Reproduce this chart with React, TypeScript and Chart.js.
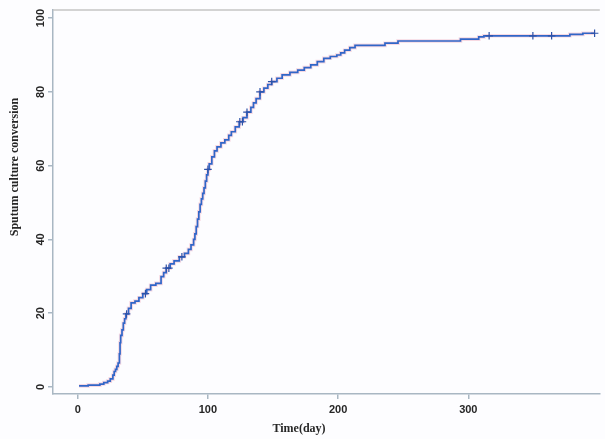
import React, { useEffect, useRef } from "react";
import { Chart, registerables } from "chart.js";

Chart.register(...registerables);

// Kaplan–Meier style cumulative conversion (%) by day
const eventDays = [
  1, 8, 17, 20, 23, 25, 27, 28, 29, 30, 31, 32, 32.5, 33, 34, 35, 36, 37, 39, 41,
  44, 47, 50, 53, 56, 60, 64, 66, 68, 71, 74, 78, 82, 85, 87, 89, 90, 91, 92, 93,
  94, 95, 96, 97, 98, 99, 100, 101, 103, 105, 107, 110, 113, 116, 118, 121, 124, 127, 130, 133,
  135, 137, 140, 143, 146, 149, 153, 157, 163, 169, 174, 179, 184, 189, 194, 199, 202, 205, 209, 213,
  236, 246, 294, 308, 312, 378, 388, 397,
];
const eventValues = [
  0.3, 0.5, 0.8, 1.2, 1.6, 2.2, 3.2, 4.2, 4.8, 5.6, 6.5, 9.0, 12.0, 14.0, 15.5, 17.3, 18.5, 19.8, 21.3, 22.8,
  23.3, 24.2, 25.3, 26.4, 27.6, 28.1, 29.9, 31.0, 32.2, 33.4, 34.2, 35.3, 36.2, 37.3, 38.5, 40.0, 41.5, 43.5, 45.5, 47.5,
  49.5, 51.0, 52.5, 54.0, 55.8, 57.5, 59.0, 60.5, 62.4, 64.0, 65.1, 66.2, 67.0, 68.2, 69.2, 70.5, 71.9, 73.0, 74.5, 75.8,
  77.0, 78.2, 80.0, 81.0, 82.0, 82.8, 83.7, 84.6, 85.3, 85.9, 86.6, 87.3, 88.2, 89.1, 89.6, 90.0, 90.6, 91.3, 92.0, 92.6,
  93.2, 93.8, 94.3, 94.9, 95.2, 95.6, 95.9, 95.9,
];
// censored observations (day)
const censorDays = [37.5, 52, 68, 70, 80, 100, 124.5, 126.5, 130, 140, 149, 316, 349.6, 364, 397];

const xTickValues = [0, 100, 200, 300];
const yTickValues = [0, 20, 40, 60, 80, 100];
const xTitle = "Time(day)";
const yTitle = "Sputum culture conversion";

function valueAt(day: number): number {
  let v = 0;
  for (let i = 0; i < eventDays.length; i++) {
    if (eventDays[i] <= day) v = eventValues[i];
  }
  return v;
}

const AXIS_COLOR = "#a9b7c3";
const TEXT_COLOR = "#262626";

export default function App() {
  const ref = useRef<HTMLCanvasElement | null>(null);

  useEffect(() => {
    document.body.style.margin = "0";
    const canvas = ref.current;
    if (!canvas) return;

    const curve = eventDays.map((d, i) => ({ x: d, y: eventValues[i] }));
    const censors = censorDays.map((d) => ({ x: d, y: valueAt(d) }));

    const decor = {
      id: "decor",
      beforeDraw(chart: any) {
        const { ctx, width, height } = chart;
        ctx.save();
        ctx.fillStyle = "#fdfdff";
        ctx.fillRect(0, 0, width, height);
        ctx.restore();
      },
      afterDraw(chart: any) {
        const { ctx, chartArea } = chart;
        const y = chart.scales.y;
        ctx.save();
        // top frame line
        ctx.strokeStyle = "#c4c4c4";
        ctx.lineWidth = 1.5;
        ctx.beginPath();
        ctx.moveTo(chartArea.left, chartArea.top);
        ctx.lineTo(chartArea.right, chartArea.top);
        ctx.stroke();
        // rotated y tick labels
        ctx.fillStyle = TEXT_COLOR;
        ctx.font = "bold 11px 'Liberation Sans', Arial, sans-serif";
        ctx.textAlign = "center";
        ctx.textBaseline = "middle";
        for (const v of yTickValues) {
          const py = y.getPixelForValue(v);
          ctx.save();
          ctx.translate(41, py);
          ctx.rotate(-Math.PI / 2);
          ctx.fillText(String(v), 0, 0);
          ctx.restore();
        }
        // axis titles
        ctx.font = "bold 12px 'Liberation Serif', 'Times New Roman', serif";
        ctx.save();
        ctx.translate(15, 167);
        ctx.rotate(-Math.PI / 2);
        ctx.fillText(yTitle, 0, 0);
        ctx.restore();
        ctx.fillText(xTitle, 299, 429);
        ctx.restore();
      },
    };

    const chart = new Chart(canvas, {
      type: "line",
      data: {
        datasets: [
          {
            data: curve,
            stepped: true,
            borderColor: "rgba(236,150,172,0.35)",
            borderWidth: 3.6,
            pointRadius: 0,
            fill: false,
            order: 3,
          },
          {
            data: curve,
            stepped: true,
            borderColor: "#3066c8",
            borderWidth: 1.7,
            pointRadius: 0,
            fill: false,
            order: 2,
          },
          {
            data: censors,
            showLine: false,
            pointStyle: "cross",
            pointRadius: 3.8,
            pointBorderColor: "#2d52a8",
            pointBorderWidth: 1.2,
            borderColor: "#2d52a8",
            order: 1,
          },
        ],
      },
      options: {
        responsive: false,
        animation: false,
        events: [],
        layout: { padding: { top: 10, right: 0, left: 0, bottom: 0 } },
        plugins: { legend: { display: false }, tooltip: { enabled: false } },
        scales: {
          x: {
            type: "linear",
            min: -19,
            max: 401,
            afterBuildTicks: (s: any) => {
              s.ticks = xTickValues.map((v) => ({ value: v }));
            },
            afterFit: (s: any) => {
              s.height = 45;
            },
            grid: {
              display: true,
              drawOnChartArea: false,
              drawTicks: true,
              tickLength: 5,
              color: AXIS_COLOR,
              lineWidth: 1.5,
            },
            border: { display: true, color: AXIS_COLOR, width: 1.5 },
            ticks: {
              padding: 4,
              color: TEXT_COLOR,
              font: { family: "'Liberation Sans', Arial, sans-serif", size: 11, weight: "bold" },
              maxRotation: 0,
              minRotation: 0,
            },
          },
          y: {
            type: "linear",
            min: -1.9,
            max: 102.2,
            afterBuildTicks: (s: any) => {
              s.ticks = yTickValues.map((v) => ({ value: v }));
            },
            afterFit: (s: any) => {
              s.width = 53;
            },
            grid: {
              display: true,
              drawOnChartArea: false,
              drawTicks: true,
              tickLength: 5,
              color: AXIS_COLOR,
              lineWidth: 1.5,
            },
            border: { display: true, color: AXIS_COLOR, width: 1.5 },
            ticks: { display: false },
          },
        },
      },
      plugins: [decor],
    } as any);

    return () => chart.destroy();
  }, []);

  return (
    <div style={{ width: 605, height: 439 }}>
      <canvas ref={ref} width={605} height={439} style={{ display: "block" }} />
    </div>
  );
}
